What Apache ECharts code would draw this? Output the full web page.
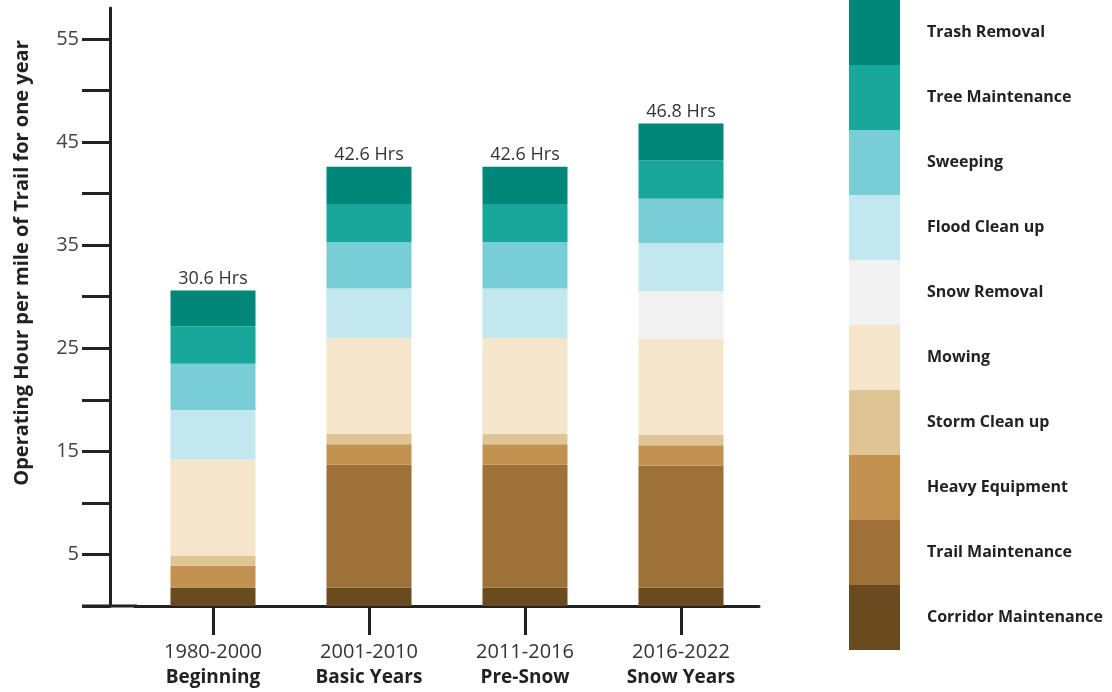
<!DOCTYPE html>
<html>
<head>
<meta charset="utf-8">
<script src="https://cdn.jsdelivr.net/npm/echarts@6/dist/echarts.min.js"></script>
<style>
  html, body { margin: 0; padding: 0; background: #ffffff; }
  #chart { width: 1112px; height: 692px; }
</style>
</head>
<body>
<div id="chart"></div>
<script>
// Periods on the x axis (date range + era name)
const periods = ['1980-2000', '2001-2010', '2011-2016', '2016-2022'];
const eras = ['Beginning', 'Basic Years', 'Pre-Snow', 'Snow Years'];

// Operating hours per mile of trail per year, by task (bottom of stack first)
const corridorMaintenance = [1.8, 1.8, 1.8, 1.8];
const trailMaintenance    = [0, 11.9, 11.9, 11.8];
const heavyEquipment      = [2.1, 2.0, 2.0, 2.0];
const stormCleanUp        = [1.0, 1.0, 1.0, 1.0];
const mowing              = [9.3, 9.3, 9.3, 9.3];
const snowRemoval         = [0, 0, 0, 4.6];
const floodCleanUp        = [4.8, 4.8, 4.8, 4.7];
const sweeping            = [4.5, 4.5, 4.5, 4.3];
const treeMaintenance     = [3.6, 3.7, 3.7, 3.7];
const trashRemoval        = [3.5, 3.6, 3.6, 3.6];

// y-axis ticks and labelled values
const yTicks = [0, 5, 10, 15, 20, 25, 30, 35, 40, 45, 50, 55];
const yLabels = [5, 15, 25, 35, 45, 55];

const tasks = [
  { name: 'Corridor Maintenance', data: corridorMaintenance, color: '#6a4b1f' },
  { name: 'Trail Maintenance',    data: trailMaintenance,    color: '#9e7138' },
  { name: 'Heavy Equipment',      data: heavyEquipment,      color: '#c39150' },
  { name: 'Storm Clean up',       data: stormCleanUp,        color: '#dfc495' },
  { name: 'Mowing',               data: mowing,              color: '#f5e5ca' },
  { name: 'Snow Removal',         data: snowRemoval,         color: '#f2f2f2' },
  { name: 'Flood Clean up',       data: floodCleanUp,        color: '#c2e7ee' },
  { name: 'Sweeping',             data: sweeping,            color: '#79cdd6' },
  { name: 'Tree Maintenance',     data: treeMaintenance,     color: '#19a79c' },
  { name: 'Trash Removal',        data: trashRemoval,        color: '#00877a' }
];

// Stack totals, shown above each bar
const totals = periods.map((_, i) =>
  tasks.reduce((s, t) => s + t.data[i], 0));

const FONT = '"Open Sans", "Noto Sans", sans-serif';
const AXIS_COLOR = '#222222';

const series = tasks.map((t, k) => ({
  name: t.name,
  type: 'bar',
  stack: 'hours',
  barWidth: 85,
  data: t.data,
  itemStyle: { color: t.color },
  emphasis: { disabled: true },
  label: k === tasks.length - 1 ? {
    show: true,
    position: 'top',
    distance: 3,
    fontFamily: FONT,
    fontSize: 18,
    color: '#333333',
    formatter: p => totals[p.dataIndex].toFixed(1) + ' Hrs'
  } : { show: false }
}));

const chart = echarts.init(document.getElementById('chart'), null, { renderer: 'canvas' });
chart.setOption({
  animation: false,
  backgroundColor: '#ffffff',
  textStyle: { fontFamily: FONT },
  grid: { left: 135, right: 353, top: 8, bottom: 86, containLabel: false },
  legend: {
    orient: 'vertical',
    left: 849,
    top: 0,
    padding: 0,
    itemWidth: 51,
    itemHeight: 65,
    itemGap: 0,
    icon: 'rect',
    selectedMode: false,
    data: tasks.map(t => t.name).reverse(),
    textStyle: {
      fontFamily: FONT,
      fontSize: 16,
      fontWeight: 'bold',
      color: '#222222',
      padding: [0, 0, 0, 22]
    }
  },
  xAxis: {
    type: 'category',
    data: periods,
    axisLine: { show: true, lineStyle: { color: AXIS_COLOR, width: 3 } },
    axisTick: { show: true, alignWithLabel: true, length: 29, lineStyle: { color: AXIS_COLOR, width: 3 } },
    axisLabel: {
      margin: 33,
      formatter: (v, i) => '{a|' + v + '}\n{b|' + eras[i] + '}',
      rich: {
        a: { fontFamily: FONT, fontSize: 20, color: '#333333', lineHeight: 26, align: 'center' },
        b: { fontFamily: FONT, fontSize: 19, fontWeight: 'bold', color: '#222222', lineHeight: 26, align: 'center' }
      }
    }
  },
  yAxis: {
    type: 'value',
    min: 0,
    max: 58,
    interval: 5,
    offset: 25,
    name: 'Operating Hour per mile of Trail for one year',
    nameLocation: 'middle',
    nameGap: 78,
    nameTextStyle: {
      fontFamily: FONT,
      fontSize: 20,
      fontWeight: 'bold',
      color: '#222222',
      padding: [0, 0, 0, 88]
    },
    axisLine: { show: true, lineStyle: { color: AXIS_COLOR, width: 3 } },
    axisTick: { show: true, length: 28, customValues: yTicks, lineStyle: { color: AXIS_COLOR, width: 3 } },
    axisLabel: {
      customValues: yLabels,
      margin: 31,
      fontFamily: FONT,
      fontSize: 20,
      color: '#444444'
    },
    splitLine: { show: false }
  },
  graphic: [{
    // baseline continues left to meet the y-axis zero tick
    type: 'line',
    shape: { x1: 82, y1: 606, x2: 137, y2: 606 },
    style: { stroke: AXIS_COLOR, lineWidth: 3 },
    silent: true
  }],
  series: series
});
</script>
</body>
</html>
